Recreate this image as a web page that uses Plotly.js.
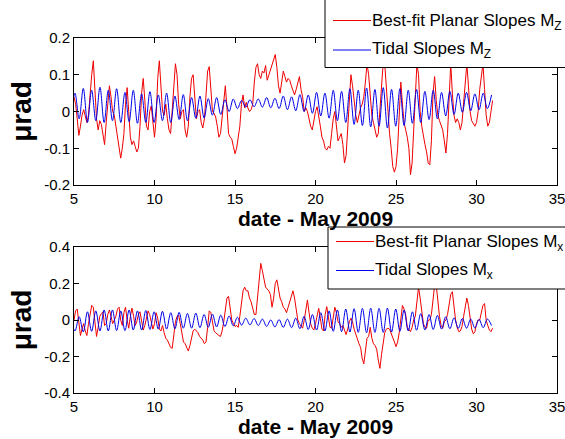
<!DOCTYPE html>
<html><head><meta charset="utf-8">
<script src="https://cdn.plot.ly/plotly-3.0.1.min.js"></script>
<style>html,body{margin:0;padding:0;background:#fff}#chart{width:565px;height:439px}</style>
</head><body><div id="chart"></div>
<script>
// ---- data ----
const redStart = 5.0;      // day of May 2009
const redStep = 0.1;       // days between samples
const mzRed = [
 0.04, 0.02, -0.02, -0.065, -0.04, -0.01, 0.005, -0.01, -0.03, -0.01,
 0.05, 0.1, 0.138, 0.07, -0.02, -0.05, -0.025, -0.035, -0.07, -0.09,
 -0.03, 0.03, 0.07, 0.04, 0.0, -0.01, -0.04, -0.07, -0.1, -0.127,
 -0.1, -0.06, 0.02, 0.065, 0.0, -0.07, -0.09, -0.08, -0.095, -0.11,
 -0.1, -0.04, 0.05, 0.09, 0.03, -0.04, -0.05, 0.0, 0.015, -0.04,
 -0.07, -0.02, 0.09, 0.138, 0.08, 0.0, -0.01, 0.02, -0.02, -0.05,
 -0.06, 0.0, 0.08, 0.13, 0.1, 0.02, -0.02, 0.0, 0.005, -0.05,
 -0.07, -0.04, 0.04, 0.09, 0.1, 0.04, -0.02, 0.0, 0.005, -0.03,
 -0.045, -0.02, 0.05, 0.11, 0.122, 0.06, 0.0, -0.005, -0.015, -0.04,
 -0.07, -0.06, -0.02, 0.03, 0.07, 0.01, -0.06, -0.07, -0.075, -0.095,
 -0.115, -0.1, -0.07, -0.04, 0.02, 0.045, 0.01, 0.025, 0.01, 0.0,
 0.005, 0.02, 0.08, 0.12, 0.13, 0.1, 0.09, 0.11, 0.105, 0.125,
 0.085, 0.1, 0.115, 0.13, 0.14, 0.155, 0.12, 0.07, 0.05, 0.08,
 0.11, 0.095, 0.08, 0.09, 0.085, 0.07, 0.06, 0.045, 0.06, 0.08,
 0.095, 0.06, 0.04, 0.0, 0.01, 0.0, -0.02, -0.04, -0.05, -0.025,
 0.0, 0.013, -0.01, -0.04, -0.07, -0.08, -0.1, -0.105, -0.095, -0.1,
 -0.06, -0.02, 0.0, -0.04, -0.08, -0.07, -0.06, -0.09, -0.14, -0.12,
 -0.04, 0.04, 0.1, 0.07, 0.03, -0.01, -0.03, -0.01, 0.01, 0.02,
 0.04, 0.08, 0.13, 0.1, 0.04, -0.01, -0.03, -0.05, -0.07, -0.06,
 0.0, 0.08, 0.13, 0.13, 0.06, -0.02, -0.06, -0.1, -0.15, -0.165,
 -0.15, -0.1, 0.0, 0.08, 0.02, -0.03, -0.05, -0.07, -0.1, -0.172,
 -0.14, -0.05, 0.05, 0.13, 0.1, 0.0, -0.04, -0.07, -0.09, -0.11,
 -0.14, -0.145, -0.08, 0.05, 0.095, 0.03, -0.01, -0.025, -0.04, -0.05,
 -0.08, -0.113, -0.06, 0.05, 0.13, 0.05, -0.01, -0.03, -0.02, -0.03,
 -0.05, -0.03, 0.02, 0.08, 0.13, 0.07, 0.0, -0.025, -0.035, -0.04,
 -0.03, 0.0, 0.06, 0.1, 0.13, 0.06, -0.01, -0.04, -0.03, 0.0,
 0.03
];
const mxRed = [
 0.0, 0.05, 0.06, -0.02, -0.085, -0.05, -0.02, -0.06, -0.085, -0.02,
 0.04, 0.08, 0.07, -0.03, -0.09, -0.04, 0.02, 0.035, 0.045, -0.03,
 -0.02, 0.03, 0.055, 0.02, -0.02, 0.0, 0.02, 0.06, 0.07, 0.0,
 -0.03, 0.04, 0.07, 0.0, -0.045, 0.02, 0.065, 0.02, -0.03, -0.01,
 0.03, 0.045, 0.0, -0.055, -0.03, 0.02, 0.05, 0.03, -0.02, -0.05,
 -0.02, 0.04, 0.01, -0.05, -0.06, -0.03, -0.07, -0.1, -0.11, -0.13,
 -0.15, -0.155, -0.08, -0.01, 0.02, 0.027, -0.02, -0.08, -0.12, -0.13,
 -0.15, -0.17, -0.14, -0.09, -0.06, -0.05, -0.06, -0.07, -0.09, -0.1,
 -0.11, -0.13, -0.12, -0.04, 0.05, 0.04, -0.02, -0.06, -0.07, -0.08,
 -0.085, -0.09, -0.06, -0.01, 0.06, 0.12, 0.13, 0.06, 0.0, -0.02,
 -0.035, -0.03, -0.04, 0.02, 0.08, 0.16, 0.18, 0.16, 0.16, 0.12,
 0.1, 0.07, 0.03, 0.03, 0.12, 0.25, 0.31, 0.27, 0.22, 0.18,
 0.17, 0.16, 0.14, 0.07, 0.12, 0.2, 0.22, 0.16, 0.12, 0.1,
 0.07, 0.06, 0.04, 0.07, 0.1, 0.14, 0.16, 0.12, 0.05, 0.0,
 -0.02, -0.03, -0.045, 0.0, 0.07, 0.11, 0.04, -0.02, -0.045, -0.055,
 -0.02, 0.03, 0.064, 0.01, -0.05, -0.06, 0.03, 0.073, 0.02, -0.04,
 -0.045, 0.02, 0.07, 0.04, -0.01, -0.02, -0.04, -0.03, -0.06, -0.08,
 -0.05, -0.01, 0.01, -0.01, -0.05, -0.08, -0.11, -0.13, -0.15, -0.21,
 -0.24, -0.15, -0.1, -0.09, -0.04, -0.1, -0.13, -0.14, -0.16, -0.22,
 -0.265, -0.19, -0.13, -0.07, -0.05, -0.045, -0.05, -0.07, -0.09, -0.12,
 -0.146, -0.12, -0.07, 0.02, 0.08, 0.06, 0.03, -0.04, -0.055, -0.064,
 -0.04, 0.0, 0.02, 0.09, 0.18, 0.12, 0.04, -0.02, -0.04, -0.045,
 0.0, 0.0, 0.03, 0.1, 0.19, 0.19, 0.1, 0.02, -0.03, -0.045,
 -0.01, 0.0, 0.03, 0.08, 0.14, 0.155, 0.06, 0.0, -0.04, -0.064,
 -0.06, -0.035, 0.02, 0.08, 0.12, 0.08, 0.0, -0.05, -0.075, -0.065,
 -0.02, 0.0, 0.0, 0.04, 0.08, 0.09, 0.0, -0.03, -0.055, -0.064,
 -0.045
];
// tidal series: successive highs and lows, half a tidal cycle apart
const tideStart = 4.80125;
const tideStep = 0.25875;
const mzTide = [
 -0.02, 0.05, -0.02, 0.063, -0.03, 0.058, -0.025, 0.066, -0.03, 0.058,
 -0.025, 0.062, -0.03, 0.052, -0.028, 0.058, -0.032, 0.048, -0.03, 0.054,
 -0.03, 0.045, -0.025, 0.05, -0.03, 0.042, -0.022, 0.046, -0.025, 0.038,
 -0.018, 0.042, -0.018, 0.035, -0.01, 0.038, -0.008, 0.032, 0.0, 0.034,
 0.008, 0.03, 0.012, 0.032, 0.013, 0.034, 0.012, 0.038, 0.01, 0.036,
 0.008, 0.042, 0.005, 0.04, 0.002, 0.046, 0.0, 0.045, -0.005, 0.052,
 -0.012, 0.05, -0.018, 0.058, -0.025, 0.055, -0.03, 0.062, -0.035, 0.058,
 -0.038, 0.064, -0.042, 0.06, -0.04, 0.065, -0.045, 0.06, -0.04, 0.062,
 -0.038, 0.058, -0.032, 0.06, -0.03, 0.055, -0.022, 0.058, -0.02, 0.052,
 -0.012, 0.055, -0.008, 0.05, -0.002, 0.052, 0.002, 0.048, 0.005, 0.05,
 0.008, 0.045
];
const mxTide = [
 0.0, -0.06, 0.018, -0.065, 0.045, -0.062, 0.05, -0.06, 0.055, -0.06,
 0.055, -0.058, 0.05, -0.058, 0.055, -0.055, 0.05, -0.055, 0.052, -0.052,
 0.045, -0.05, 0.048, -0.05, 0.04, -0.048, 0.042, -0.045, 0.036, -0.045,
 0.038, -0.042, 0.03, -0.04, 0.032, -0.038, 0.027, -0.036, 0.022, -0.032,
 0.015, -0.028, 0.01, -0.027, 0.008, -0.03, 0.005, -0.035, 0.0, -0.038,
 0.002, -0.04, 0.005, -0.042, 0.01, -0.048, 0.02, -0.052, 0.03, -0.055,
 0.04, -0.06, 0.05, -0.062, 0.055, -0.064, 0.06, -0.066, 0.062, -0.068,
 0.064, -0.07, 0.065, -0.068, 0.064, -0.068, 0.065, -0.066, 0.06, -0.062,
 0.055, -0.06, 0.045, -0.056, 0.035, -0.055, 0.03, -0.052, 0.025, -0.05,
 0.018, -0.048, 0.012, -0.046, 0.008, -0.045, 0.005, -0.044, 0.003, -0.042,
 0.005, -0.03
];
const xTicks = [5, 10, 15, 20, 25, 30, 35];
const mzTicks = [-0.2, -0.1, 0, 0.1, 0.2];
const mzTickText = ['-0.2', '-0.1', '0', '0.1', '0.2'];
const mxTicks = [-0.4, -0.2, 0, 0.2, 0.4];
const mxTickText = ['-0.4', '-0.2', '0', '0.2', '0.4'];
const redName = 'Best-fit Planar Slopes';
const blueName = 'Tidal Slopes';

// ---- build ----
const redX = mzRed.map((_, i) => +(redStart + i * redStep).toFixed(3));
const tideX = mzTide.map((_, i) => +(tideStart + i * tideStep).toFixed(5));
const RED = 'rgb(240,0,0)', BLUE = 'rgb(0,0,235)';
const W = 565, H = 439;
const px = v => v / W, py = v => 1 - v / H;
const FONT = 'Liberation Sans, Arial, Helvetica, sans-serif';

const traces = [
  {x: redX, y: mzRed, type: 'scatter', mode: 'lines', name: redName + ' Mz', xaxis: 'x', yaxis: 'y', line: {color: RED, width: 1}},
  {x: tideX, y: mzTide, type: 'scatter', mode: 'lines', name: blueName + ' Mz', xaxis: 'x', yaxis: 'y', line: {color: BLUE, width: 1, shape: 'spline', smoothing: 1}},
  {x: redX, y: mxRed, type: 'scatter', mode: 'lines', name: redName + ' Mx', xaxis: 'x2', yaxis: 'y2', line: {color: RED, width: 1}},
  {x: tideX, y: mxTide, type: 'scatter', mode: 'lines', name: blueName + ' Mx', xaxis: 'x2', yaxis: 'y2', line: {color: BLUE, width: 1, shape: 'spline', smoothing: 1}}
];

const axBase = {showline: true, linecolor: 'black', linewidth: 1, mirror: 'ticks', ticks: 'inside', ticklen: 5,
  tickcolor: 'black', showgrid: false, zeroline: false, tickfont: {family: FONT, size: 15, color: 'black'},
  ticklabeloverflow: 'allow', fixedrange: true};
const xDom = [px(74), px(557)];
const xTitle = {text: 'date - May 2009', font: {family: FONT, size: 21, color: 'black', weight: 'bold'}, standoff: 0};
const yTitle = {text: 'μrad', font: {family: FONT, size: 28, color: 'black', weight: 'bold'}, standoff: 4};

function legendBox(top, bottom, left, t1, t2, lineY1, lineY2, textX, sub) {
  const shapes = [
    {type: 'rect', xref: 'paper', yref: 'paper', x0: px(left), x1: px(left + 400), y0: py(bottom), y1: py(top), fillcolor: 'white', line: {color: 'black', width: 1}, layer: 'above'},
    {type: 'line', xref: 'paper', yref: 'paper', x0: px(left + 8), x1: px(textX - 2), y0: py(lineY1), y1: py(lineY1), line: {color: RED, width: 1}, layer: 'above'},
    {type: 'line', xref: 'paper', yref: 'paper', x0: px(left + 8), x1: px(textX - 2), y0: py(lineY2), y1: py(lineY2), line: {color: BLUE, width: 1}, layer: 'above'}
  ];
  const ann = [
    {xref: 'paper', yref: 'paper', x: px(textX - 3), y: py(t1), xanchor: 'left', yanchor: 'middle', showarrow: false,
     text: redName + ' M<sub>' + sub + '</sub>', font: {family: FONT, size: 17, color: 'black'}},
    {xref: 'paper', yref: 'paper', x: px(textX - 3), y: py(t2), xanchor: 'left', yanchor: 'middle', showarrow: false,
     text: blueName + ' M<sub>' + sub + '</sub>', font: {family: FONT, size: 17, color: 'black'}}
  ];
  return {shapes, ann};
}
const lg1 = legendBox(-10, 67.5, 325, 22, 50, 20.5, 50, 373, 'Z');
const lg2 = legendBox(227, 289, 328, 243, 271, 241.5, 270.5, 376, 'x');

const layout = {
  width: W, height: H, margin: {l: 0, r: 0, t: 0, b: 0}, paper_bgcolor: 'white', plot_bgcolor: 'white',
  showlegend: false, font: {family: FONT, color: 'black'},
  xaxis: Object.assign({}, axBase, {domain: xDom, range: [5, 35], tickvals: xTicks, anchor: 'y', title: xTitle}),
  yaxis: Object.assign({}, axBase, {domain: [py(185), py(38)], range: [-0.2, 0.2], tickvals: mzTicks, ticktext: mzTickText, anchor: 'x', title: yTitle}),
  xaxis2: Object.assign({}, axBase, {domain: xDom, range: [5, 35], tickvals: xTicks, anchor: 'y2', title: xTitle}),
  yaxis2: Object.assign({}, axBase, {domain: [py(393), py(247)], range: [-0.4, 0.4], tickvals: mxTicks, ticktext: mxTickText, anchor: 'x2', title: yTitle}),
  shapes: lg1.shapes.concat(lg2.shapes),
  annotations: lg1.ann.concat(lg2.ann)
};
Plotly.newPlot('chart', traces, layout, {displayModeBar: false, staticPlot: true});
</script>
</body></html>
